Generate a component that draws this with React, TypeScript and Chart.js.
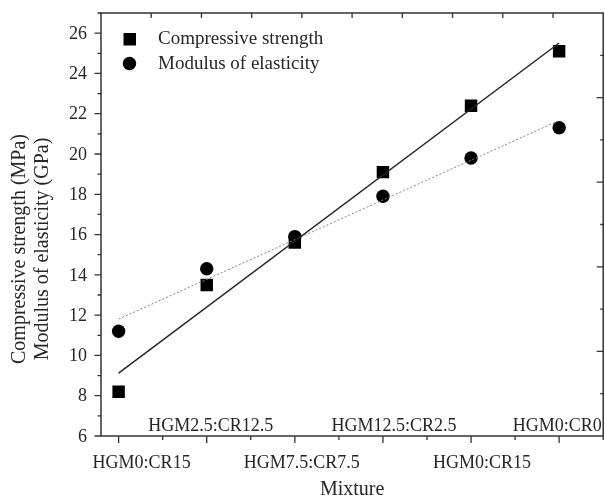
import React, { useEffect, useRef } from "react";
import { Chart, registerables } from "chart.js";

Chart.register(...registerables);

const categories = [
  "HGM0:CR15",
  "HGM2.5:CR12.5",
  "HGM7.5:CR7.5",
  "HGM12.5:CR2.5",
  "HGM0:CR15",
  "HGM0:CR0",
];
const compressiveStrength = [8.2, 13.5, 15.6, 19.1, 22.4, 25.1];
const modulusOfElasticity = [11.2, 14.3, 15.9, 17.9, 19.8, 21.3];
const yTickValues = [6, 8, 10, 12, 14, 16, 18, 20, 22, 24, 26];
const legendLabels = ["Compressive strength", "Modulus of elasticity"];
const yTitleLines = ["Compressive strength (MPa)", "Modulus of elasticity (GPa)"];
const xTitle = "Mixture";

// horizontal nudges of the hand-placed category labels (layout only)
const LABEL_NUDGE = [23, 4, 7, 11, 11, -2];

function linearFit(vals: number[]) {
  const n = vals.length;
  const mx = (n - 1) / 2;
  const my = vals.reduce((s, v) => s + v, 0) / n;
  let sxy = 0;
  let sxx = 0;
  vals.forEach((v, i) => {
    sxy += (i - mx) * (v - my);
    sxx += (i - mx) * (i - mx);
  });
  const m = sxy / sxx;
  const b = my - m * mx;
  return [
    { x: 0, y: b },
    { x: n - 1, y: b + m * (n - 1) },
  ];
}

const SERIF = "'Liberation Serif', 'DejaVu Serif', serif";
const TEXT = "#262626";

const axesPlugin = {
  id: "customAxes",
  afterDraw(chart: any) {
    const { ctx, chartArea: a, scales } = chart;
    const x = scales.x;
    const y = scales.y;
    const x2 = scales.x2;
    const y2 = scales.y2;
    ctx.save();
    ctx.strokeStyle = "#333";
    ctx.lineWidth = 1.5;
    ctx.strokeRect(a.left, a.top, a.right - a.left, a.bottom - a.top);

    ctx.lineWidth = 1.3;
    ctx.beginPath();
    // left ticks (outward)
    for (let v = 6; v <= 27; v++) {
      const py = y.getPixelForValue(v);
      const len = v % 2 === 0 ? 6.5 : 3.5;
      ctx.moveTo(a.left - len, py);
      ctx.lineTo(a.left, py);
    }
    // bottom ticks (outward)
    for (let k = 0; k <= 11; k++) {
      const v = k / 2;
      const px = x.getPixelForValue(v);
      const len = k % 2 === 0 ? 7 : 4;
      ctx.moveTo(px, a.bottom);
      ctx.lineTo(px, a.bottom + len);
    }
    // top ticks (inward)
    for (let v = 1; v < 10; v++) {
      const px = x2.getPixelForValue(v);
      ctx.moveTo(px, a.top);
      ctx.lineTo(px, a.top + 5);
    }
    // right ticks (inward)
    for (let k = 1; k < 10; k++) {
      const v = k / 2;
      const py = y2.getPixelForValue(v);
      const len = k % 2 === 0 ? 6.5 : 3;
      ctx.moveTo(a.right - len, py);
      ctx.lineTo(a.right, py);
    }
    ctx.stroke();

    ctx.fillStyle = TEXT;
    // y tick labels
    ctx.font = `18px ${SERIF}`;
    ctx.textAlign = "right";
    ctx.textBaseline = "middle";
    yTickValues.forEach((v) => {
      ctx.fillText(String(v), a.left - 14, y.getPixelForValue(v) + 1);
    });
    // x tick labels (staggered)
    ctx.textAlign = "center";
    categories.forEach((c, i) => {
      const px = x.getPixelForValue(i) + LABEL_NUDGE[i];
      const py = i % 2 === 0 ? a.bottom + 27 : a.bottom - 10;
      ctx.fillText(c, px, py);
    });
    // x title
    ctx.font = `20px ${SERIF}`;
    ctx.fillText(xTitle, (a.left + a.right) / 2, a.bottom + 54);
    // y title
    ctx.textBaseline = "alphabetic";
    const baselines = [25, 48];
    yTitleLines.forEach((t, i) => {
      ctx.save();
      ctx.translate(baselines[i], 249);
      ctx.rotate(-Math.PI / 2);
      ctx.fillText(t, 0, 0);
      ctx.restore();
    });
    // legend
    ctx.fillStyle = "#000";
    ctx.fillRect(123.5, 33, 12.5, 12.5);
    ctx.beginPath();
    ctx.arc(129.5, 63.5, 6.7, 0, Math.PI * 2);
    ctx.fill();
    ctx.fillStyle = TEXT;
    ctx.font = `19px ${SERIF}`;
    ctx.textAlign = "left";
    ctx.textBaseline = "middle";
    ctx.fillText(legendLabels[0], 158, 39.5);
    ctx.fillText(legendLabels[1], 158, 64);
    ctx.restore();
  },
};

export default function App() {
  const ref = useRef<HTMLCanvasElement | null>(null);
  useEffect(() => {
    if (!ref.current) return;
    const chart = new Chart(ref.current, {
      type: "scatter",
      data: {
        datasets: [
          {
            label: "Compressive strength fit",
            data: linearFit(compressiveStrength),
            showLine: true,
            borderColor: "#222",
            borderWidth: 1.4,
            pointRadius: 0,
            fill: false,
          } as any,
          {
            label: "Modulus of elasticity fit",
            data: linearFit(modulusOfElasticity),
            showLine: true,
            borderColor: "#808080",
            borderWidth: 1,
            borderDash: [2, 2],
            pointRadius: 0,
            fill: false,
          } as any,
          {
            label: legendLabels[0],
            data: compressiveStrength.map((v, i) => ({ x: i, y: v })),
            pointStyle: "rect",
            pointRadius: 8.8,
            backgroundColor: "#000",
            borderColor: "#000",
            borderWidth: 0,
          },
          {
            label: legendLabels[1],
            data: modulusOfElasticity.map((v, i) => ({ x: i, y: v })),
            pointStyle: "circle",
            pointRadius: 6.7,
            backgroundColor: "#000",
            borderColor: "#000",
            borderWidth: 0,
          },
        ],
      },
      options: {
        animation: false,
        responsive: false,
        devicePixelRatio: 1,
        layout: { padding: { left: 101, top: 13, right: 6, bottom: 65 } },
        plugins: {
          legend: { display: false },
          tooltip: { enabled: false },
        },
        scales: {
          x: { type: "linear", min: -0.2, max: 5.5, display: false },
          x2: { type: "linear", axis: "x", position: "top", min: 0, max: 10, display: false },
          y: { type: "linear", min: 6, max: 27, display: false },
          y2: { type: "linear", axis: "y", position: "right", min: 0, max: 5, display: false },
        },
      },
      plugins: [axesPlugin],
    });
    return () => chart.destroy();
  }, []);
  return (
    <div
      style={{
        position: "fixed",
        left: 0,
        top: 0,
        width: 605,
        height: 501,
        overflow: "hidden",
        background: "#fff",
      }}
    >
      <canvas ref={ref} width={612} height={501} style={{ display: "block" }} />
    </div>
  );
}
